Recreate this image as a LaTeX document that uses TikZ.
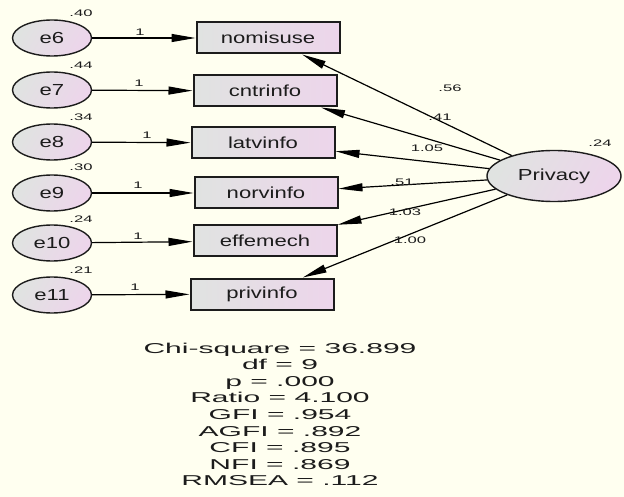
\documentclass[tikz,border=0pt]{standalone}
\usepackage{fontspec}
\setmainfont{Liberation Sans}
\usetikzlibrary{arrows.meta,shapes.geometric}
\definecolor{paper}{RGB}{255,255,240}
\definecolor{shadeL}{RGB}{224,227,225}
\definecolor{shadeR}{RGB}{237,213,235}
\definecolor{ink}{RGB}{28,28,28}
% wide sans lettering at three sizes
\newcommand\wideM[1]{\scalebox{1.38}[1]{#1}}
\newcommand\wideS[1]{\scalebox{1.75}[1]{#1}}
\newcommand\wideL[1]{\scalebox{2.1}[1]{#1}}
\lineskiplimit=-20pt
\begin{document}
\begin{tikzpicture}[x=1pt,y=-1pt,
  obs/.style={rectangle, draw=ink, line width=2pt, minimum width=143pt,
    minimum height=31pt, inner sep=0pt, left color=shadeL, right color=shadeR,
    font=\fontsize{16}{16}\selectfont, text=ink},
  err/.style={ellipse, draw=ink, line width=1.4pt, minimum width=79pt,
    minimum height=36pt, inner sep=0pt, left color=shadeL, right color=shadeR,
    shading angle=60, font=\fontsize{16}{16}\selectfont, text=ink},
  lat/.style={ellipse, draw=ink, line width=1.4pt, minimum width=134pt,
    minimum height=51pt, inner sep=0pt, left color=shadeL, right color=shadeR,
    shading angle=60, font=\fontsize{16}{16}\selectfont, text=ink},
  num/.style={inner sep=0pt, font=\fontsize{9.5}{9.5}\selectfont, text=ink},
  regpath/.style={draw=black, line width=1.2pt, -{Triangle[length=24pt,width=8pt]}},
  fitstats/.style={inner sep=0pt, align=center, text=ink,
    font=\fontsize{14.3}{16.6}\selectfont}
]
\useasboundingbox (0,0) rectangle (624,497);
\fill[paper] (0,0) rectangle (624,497);

% error terms
\node[err] (e6)  at (52,38)  {\wideM{e6}};
\node[err] (e7)  at (52,90)  {\wideM{e7}};
\node[err] (e8)  at (52,142) {\wideM{e8}};
\node[err] (e9)  at (52,193) {\wideM{e9}};
\node[err] (e10) at (52,243) {\wideM{e10}};
\node[err] (e11) at (52,295) {\wideM{e11}};

% observed indicators
\node[obs] (nomisuse) at (268,38)  {\wideM{nomisuse}};
\node[obs] (cntrinfo) at (265,91)  {\wideM{cntrinfo}};
\node[obs] (latvinfo) at (263,143) {\wideM{latvinfo}};
\node[obs] (norvinfo) at (266,193) {\wideM{norvinfo}};
\node[obs] (effemech) at (265,241) {\wideM{effemech}};
\node[obs] (privinfo) at (262,294) {\wideM{privinfo}};

% latent factor
\node[lat] (privacy) at (554,176) {\wideM{Privacy}};

% error paths fixed to 1
\draw[regpath] (e6)  -- (nomisuse);
\draw[regpath] (e7)  -- (cntrinfo);
\draw[regpath] (e8)  -- (latvinfo);
\draw[regpath] (e9)  -- (norvinfo);
\draw[regpath] (e10) -- (effemech);
\draw[regpath] (e11) -- (privinfo);
\node[num] (w6)  at (140,32)  {\wideS{1}};
\node[num] (w7)  at (139,83)  {\wideS{1}};
\node[num] (w8)  at (147,135) {\wideS{1}};
\node[num] (w9)  at (138,185) {\wideS{1}};
\node[num] (w10) at (138,236) {\wideS{1}};
\node[num] (w11) at (135,287) {\wideS{1}};

% error variances
\node[num] (v6)  at (81,13)  {\wideS{.40}};
\node[num] (v7)  at (81,65)  {\wideS{.44}};
\node[num] (v8)  at (81,117) {\wideS{.34}};
\node[num] (v9)  at (81,167) {\wideS{.30}};
\node[num] (v10) at (81,219) {\wideS{.24}};
\node[num] (v11) at (81,270) {\wideS{.21}};

% factor loadings
\draw[regpath] (privacy) -- (nomisuse);
\draw[regpath] (privacy) -- (cntrinfo);
\draw[regpath] (privacy) -- (latvinfo);
\draw[regpath] (privacy) -- (norvinfo);
\draw[regpath] (privacy) -- (effemech);
\draw[regpath] (privacy) -- (privinfo);
\node[num] (l1) at (450,88)  {\wideS{.56}};
\node[num] (l2) at (440,117) {\wideS{.41}};
\node[num] (l3) at (427,148) {\wideS{1.05}};
\node[num] (l4) at (402,182) {\wideS{.51}};
\node[num] (l5) at (405,212) {\wideS{1.03}};
\node[num] (l6) at (410,240) {\wideS{1.00}};
\node[num] (vp) at (600,143) {\wideS{.24}};

% fit statistics
\node[fitstats, anchor=north] (stats) at (280,342.5) {%
  \wideL{Chi-square = 36.899}\\
  \wideL{df = 9}\\
  \wideL{p = .000}\\
  \wideL{Ratio = 4.100}\\
  \wideL{GFI = .954}\\
  \wideL{AGFI = .892}\\
  \wideL{CFI = .895}\\
  \wideL{NFI = .869}\\
  \wideL{RMSEA = .112}};
\end{tikzpicture}
\end{document}
